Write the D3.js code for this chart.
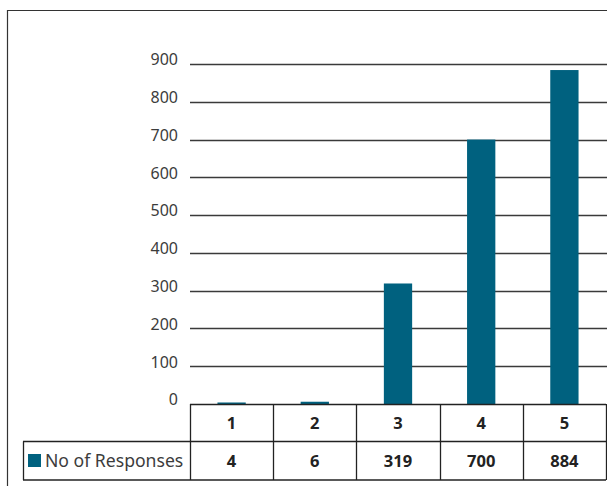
<!DOCTYPE html>
<html>
<head>
<meta charset="utf-8">
<script src="https://cdn.jsdelivr.net/npm/d3@7"></script>
<style>
  html, body { margin: 0; padding: 0; background: #fff; }
  svg { display: block; }
</style>
</head>
<body>
<svg id="chart" width="607" height="486"></svg>
<script>
// Survey ratings and how many responses each received
const categories = ["1", "2", "3", "4", "5"];
const responses = [4, 6, 319, 700, 884];
const seriesName = "No of Responses";
const yTicks = [0, 100, 200, 300, 400, 500, 600, 700, 800, 900];

const W = 607, H = 486;
const plot = { left: 190, right: 606, top: 64, bottom: 404 };
const rowH = 37.5;
const legendLeft = 23;
const barColor = "#00617f";
const gridColor = "#3a3a3a";
const lineColor = "#222";
const textColor = "#3c3c3c";
const font = "'Noto Sans', 'Open Sans', sans-serif";

const svg = d3.select("#chart");

const x = d3.scaleBand().domain(categories).range([plot.left, plot.right]).padding(0);
const y = d3.scaleLinear().domain([0, 900]).range([plot.bottom, plot.top]);
const barW = x.bandwidth() * 0.34;

// outer frame (runs off the right and bottom edges)
svg.append("path")
  .attr("d", `M7.5,${H} V10.5 H${W}`)
  .attr("fill", "none").attr("stroke", "#333").attr("stroke-width", 1.2);

// horizontal gridlines
svg.append("g").selectAll("line").data(yTicks.filter(t => t > 0)).join("line")
  .attr("x1", plot.left).attr("x2", W)
  .attr("y1", d => Math.round(y(d)) + 0.5).attr("y2", d => Math.round(y(d)) + 0.5)
  .attr("stroke", gridColor).attr("stroke-width", 1.5);

// y axis labels
const yAxis = d3.axisLeft(y).tickValues(yTicks).tickSize(0).tickPadding(12);
const gy = svg.append("g").attr("transform", `translate(${plot.left},0)`).call(yAxis);
gy.select(".domain").remove();
gy.selectAll("text")
  .attr("font-family", font).attr("font-size", 16).attr("fill", textColor)
  .attr("dy", "0.05em");

// bars
svg.append("g").selectAll("rect").data(responses).join("rect")
  .attr("x", (d, i) => x(categories[i]) + (x.bandwidth() - barW) / 2)
  .attr("width", barW)
  .attr("y", d => y(d))
  .attr("height", d => y(0) - y(d))
  .attr("fill", barColor);

// data table below the plot
const row1Top = plot.bottom, row1Bot = plot.bottom + rowH, row2Bot = row1Bot + rowH + 1;
const table = svg.append("g").attr("fill", "none").attr("stroke", lineColor).attr("stroke-width", 1.3);
table.append("line").attr("x1", plot.left).attr("x2", plot.right).attr("y1", row1Top + 0.5).attr("y2", row1Top + 0.5);
table.append("line").attr("x1", legendLeft).attr("x2", plot.right).attr("y1", row1Bot).attr("y2", row1Bot);
table.append("line").attr("x1", legendLeft).attr("x2", plot.right).attr("y1", row2Bot).attr("y2", row2Bot);
table.append("line").attr("x1", legendLeft + 0.5).attr("x2", legendLeft + 0.5).attr("y1", row1Bot).attr("y2", row2Bot);
const bounds = categories.map(c => x(c)).concat([plot.right]);
table.selectAll("line.col").data(bounds).join("line").attr("class", "col")
  .attr("x1", d => Math.round(d) + 0.5).attr("x2", d => Math.round(d) + 0.5)
  .attr("y1", row1Top).attr("y2", row2Bot);

// category header row
svg.append("g").selectAll("text").data(categories).join("text")
  .attr("x", d => x(d) + x.bandwidth() / 2)
  .attr("y", (row1Top + row1Bot) / 2)
  .attr("dy", "0.36em")
  .attr("text-anchor", "middle")
  .attr("font-family", font).attr("font-size", 16.5).attr("font-weight", "bold").attr("fill", "#222")
  .text(d => d);

// values row
svg.append("g").selectAll("text").data(responses).join("text")
  .attr("x", (d, i) => x(categories[i]) + x.bandwidth() / 2)
  .attr("y", (row1Bot + row2Bot) / 2)
  .attr("dy", "0.36em")
  .attr("text-anchor", "middle")
  .attr("font-family", font).attr("font-size", 16.5).attr("font-weight", "bold").attr("fill", "#222")
  .text(d => d);

// legend key in the table
svg.append("rect")
  .attr("x", 28).attr("y", 454).attr("width", 13).attr("height", 13)
  .attr("fill", barColor);
svg.append("text")
  .attr("x", 45).attr("y", (row1Bot + row2Bot) / 2)
  .attr("dy", "0.36em")
  .attr("font-family", font).attr("font-size", 17.6).attr("fill", textColor)
  .text(seriesName);
</script>
</body>
</html>
